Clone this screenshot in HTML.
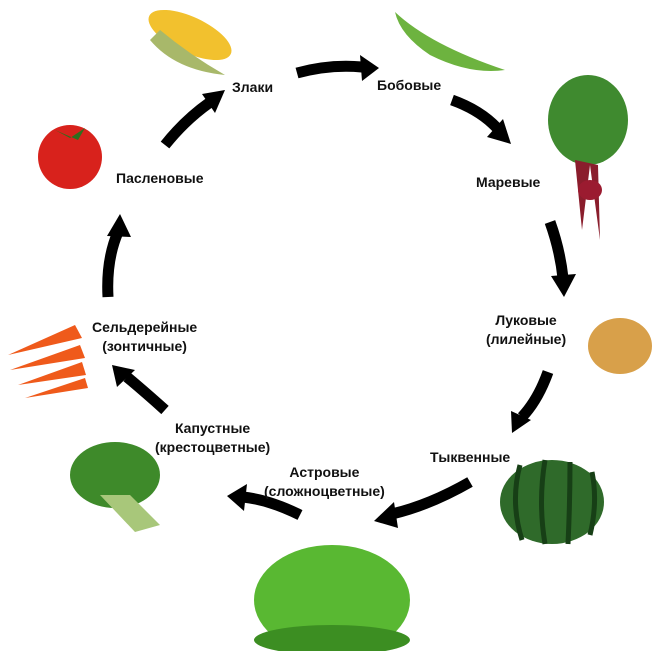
<!DOCTYPE html>
<html><head><meta charset="utf-8"><style>
body{margin:0;background:#fff;width:660px;height:651px;overflow:hidden;position:relative;font-family:"Liberation Sans",sans-serif}
.t{position:absolute;font-weight:bold;font-size:14px;color:#111;text-align:center;line-height:19px;white-space:nowrap}
svg{position:absolute;left:0;top:0}
</style></head><body>
<svg width="660" height="651" viewBox="0 0 660 651">
<g fill="none" stroke="#000" stroke-width="11">
<path d="M297 73 Q330 64 362 67"/>
<path d="M452 100 Q480 110 497 128"/>
<path d="M550 222 Q560 250 563 278"/>
<path d="M548 372 Q538 400 522 417"/>
<path d="M470 482 Q430 505 392 514"/>
<path d="M300 515 Q270 500 243 497"/>
<path d="M165 410 Q145 392 127 377"/>
<path d="M108 297 Q106 260 118 232"/>
<path d="M165 145 Q185 120 209 103"/>
</g>
<g fill="#000">
<polygon points="360,55 379,68 362,81"/>
<polygon points="487,137 511,144 503,119"/>
<polygon points="551,276 564,297 576,274"/>
<polygon points="511,411 512,433 531,420"/>
<polygon points="394,502 374,521 398,528"/>
<polygon points="247,484 227,496 244,511"/>
<polygon points="117,387 112,365 135,370"/>
<polygon points="107,236 120,214 131,237"/>
<polygon points="202,94 225,90 215,113"/>
</g>
<!-- corn -->
<ellipse cx="190" cy="35" rx="45" ry="18" transform="rotate(25 190 35)" fill="#f2c12e"/>
<path d="M150 40 Q175 70 225 75 Q190 55 160 30 Z" fill="#a8b86a"/>
<!-- peas -->
<path d="M395 12 Q430 45 505 70 Q470 75 430 55 Q400 35 395 12Z" fill="#6db33f"/>
<!-- beet -->
<ellipse cx="588" cy="120" rx="40" ry="45" fill="#3f8a2f"/>
<path d="M575 160 L582 230 L590 165 L600 240 L598 165Z" fill="#8a1d2c"/>
<ellipse cx="590" cy="190" rx="12" ry="10" fill="#9b1b30"/>
<!-- tomato -->
<ellipse cx="70" cy="157" rx="32" ry="32" fill="#d8221c"/>
<path d="M55 130 L70 138 L85 128 L78 140Z" fill="#2f6e1e"/>
<!-- carrots -->
<g fill="#ef5a1b">
<path d="M8 355 L75 325 L82 338 Z"/><path d="M10 370 L80 345 L85 358Z"/><path d="M18 385 L82 362 L86 375Z"/><path d="M25 398 L85 378 L88 388Z"/>
</g>
<!-- onion -->
<ellipse cx="620" cy="346" rx="32" ry="28" fill="#d8a04a"/>
<!-- watermelon -->
<ellipse cx="552" cy="502" rx="52" ry="42" fill="#2f6a2a"/>
<g stroke="#173f16" stroke-width="5" fill="none"><path d="M520 465 Q510 502 522 540"/><path d="M545 460 Q538 502 545 544"/><path d="M570 462 Q570 502 568 544"/><path d="M592 472 Q598 502 590 535"/></g>
<!-- broccoli -->
<ellipse cx="115" cy="475" rx="45" ry="33" fill="#3e8a2a"/>
<path d="M100 495 L135 532 L160 525 L130 495Z" fill="#a8c77a"/>
<!-- lettuce -->
<ellipse cx="332" cy="600" rx="78" ry="55" fill="#59b832"/>
<ellipse cx="332" cy="640" rx="78" ry="15" fill="#3c8e22"/>
</svg>
<div class="t" style="left:232px;top:78px">Злаки</div>
<div class="t" style="left:377px;top:76px">Бобовые</div>
<div class="t" style="left:476px;top:173px">Маревые</div>
<div class="t" style="left:116px;top:169px">Пасленовые</div>
<div class="t" style="left:486px;top:311px">Луковые<br>(лилейные)</div>
<div class="t" style="left:92px;top:318px">Сельдерейные<br>(зонтичные)</div>
<div class="t" style="left:155px;top:419px">Капустные<br>(крестоцветные)</div>
<div class="t" style="left:430px;top:448px">Тыквенные</div>
<div class="t" style="left:264px;top:463px">Астровые<br>(сложноцветные)</div>
</body></html>
